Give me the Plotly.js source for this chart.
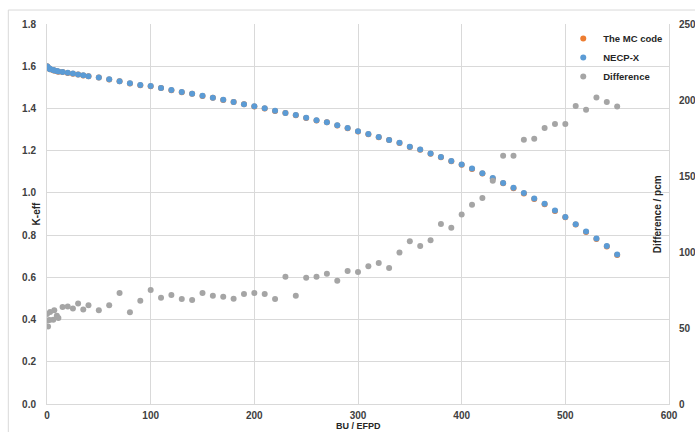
<!DOCTYPE html>
<html>
<head>
<meta charset="utf-8">
<script src="https://cdn.plot.ly/plotly-3.0.1.min.js"></script>
<style>html,body{margin:0;padding:0;background:#fff;}#chart{width:695px;height:432px;}</style>
</head>
<body>
<div id="chart"></div>
<script>
const burnup = [0,0.5,1,2.5,3,6,7,9.5,11,15,20,25,30,35,40,
  50,60,70,80,90,100,110,120,130,140,150,160,170,180,190,200,
  210,220,230,240,250,260,270,280,290,300,310,320,330,340,350,
  360,370,380,390,400,410,420,430,440,450,460,470,480,490,500,
  510,520,530,540,550];

const necpX = [1.600,1.596,1.593,1.589,1.586,1.582,1.580,1.577,1.575,1.573,1.569,1.565,1.561,1.557,1.553,
  1.547,1.538,1.529,1.519,1.511,1.506,1.497,1.487,1.478,1.470,1.460,1.451,1.441,1.431,1.420,1.410,
  1.401,1.389,1.379,1.369,1.356,1.344,1.335,1.320,1.307,1.292,1.279,1.265,1.251,1.237,1.219,
  1.205,1.186,1.170,1.151,1.134,1.115,1.093,1.070,1.047,1.024,0.999,0.973,0.948,0.916,0.886,
  0.852,0.817,0.784,0.748,0.708];

const mcCode = [1.5994,1.5955,1.5925,1.5884,1.5854,1.5814,1.5794,1.5764,1.5744,1.5724,1.5684,1.5644,1.5603,1.5564,1.5524,
  1.5464,1.5374,1.5283,1.5184,1.5103,1.5053,1.4963,1.4863,1.4773,1.4693,1.4593,1.4503,1.4403,1.4303,1.4193,1.4093,
  1.4003,1.3883,1.3782,1.3683,1.3552,1.3432,1.3341,1.3192,1.3061,1.2911,1.2781,1.2641,1.2501,1.2360,1.2179,
  1.2040,1.1849,1.1688,1.1498,1.1328,1.1137,1.0916,1.0685,1.0454,1.0224,0.9973,0.9713,0.9462,0.9142,0.8842,
  0.8500,0.8151,0.7820,0.7460,0.7060];

const differencePcm = [59.2,55.0,51.0,55.3,60.5,55.5,61.6,58.1,56.6,63.8,64.2,62.9,66.2,62.2,64.9,
  61.6,64.9,73.0,60.3,68.0,75.0,69.9,71.7,69.1,68.4,73.0,71.2,70.6,69.3,72.4,73.0,
  72.4,69.1,83.7,71.2,83.1,83.7,85.7,81.1,87.5,86.9,90.7,92.7,89.5,99.6,107.0,
  104.0,107.8,118.5,115.9,124.7,131.1,135.5,146.9,163.4,163.4,173.9,174.5,181.6,184.2,184.2,
  196.0,193.6,201.7,198.7,195.8];

const seriesNames = ['The MC code','NECP-X','Difference'];
const xTitle = 'BU / EFPD';
const yTitle = 'K-eff';
const y2Title = 'Difference / pcm';

const FONT = '"Liberation Sans", Arial, sans-serif';
const GRID = '#d9d9d9';
const tickFont = {family: FONT, size: 10, color: '#404040', weight: 'bold'};

const traces = [
  {x: burnup, y: mcCode, name: seriesNames[0], type: 'scatter', mode: 'markers',
   marker: {color: '#ED7D31', size: 6}},
  {x: burnup, y: necpX, name: seriesNames[1], type: 'scatter', mode: 'markers',
   marker: {color: '#5B9BD5', size: 6}},
  {x: burnup, y: differencePcm, name: seriesNames[2], type: 'scatter', mode: 'markers',
   yaxis: 'y2', marker: {color: '#A5A5A5', size: 6}}
];

const layout = {
  width: 695, height: 432,
  margin: {l: 47, r: 26, t: 24, b: 28, pad: 0},
  paper_bgcolor: '#ffffff', plot_bgcolor: '#ffffff',
  font: {family: FONT, color: '#404040'},
  showlegend: true,
  legend: {x: 0.83, y: 1.0, xanchor: 'left', yanchor: 'top',
    bgcolor: 'rgba(0,0,0,0)', font: {family: FONT, size: 9.5, color: '#262626', weight: 'bold'},
    itemwidth: 30, tracegroupgap: 0},
  xaxis: {range: [0, 600], dtick: 100, tick0: 0, showgrid: true, gridcolor: GRID, gridwidth: 1,
    zeroline: false, showline: true, linecolor: GRID, linewidth: 1, mirror: false,
    ticks: '', tickfont: tickFont, ticklabelstandoff: 2},
  yaxis: {range: [0, 1.8], dtick: 0.2, tick0: 0, tickformat: '.1f', showgrid: true, gridcolor: GRID,
    zeroline: false, showline: true, linecolor: GRID, linewidth: 1,
    ticks: '', tickfont: tickFont, ticklabelstandoff: 8},
  yaxis2: {range: [0, 250], dtick: 50, tick0: 0, overlaying: 'y', side: 'right', showgrid: false,
    zeroline: false, showline: true, linecolor: GRID, linewidth: 1,
    ticks: '', tickfont: tickFont, ticklabelstandoff: 7},
  annotations: [
    {text: yTitle, xref: 'paper', yref: 'paper', x: -0.017, y: 0.5, textangle: -90,
     showarrow: false, xanchor: 'center', yanchor: 'middle',
     font: {family: FONT, size: 10, color: '#262626', weight: 'bold'}},
    {text: y2Title, xref: 'paper', yref: 'paper', x: 0.981, y: 0.5, textangle: -90,
     showarrow: false, xanchor: 'center', yanchor: 'middle',
     font: {family: FONT, size: 10, color: '#262626', weight: 'bold'}},
    {text: xTitle, xref: 'paper', yref: 'paper', x: 0.5, y: -0.059, borderpad: 0,
     showarrow: false, xanchor: 'center', yanchor: 'middle',
     font: {family: FONT, size: 9, color: '#262626', weight: 'bold'}}
  ],
  shapes: [
    {type: 'rect', xref: 'paper', yref: 'paper', x0: -0.0622, x1: 1.05, y0: -0.094, y1: 1.0368,
     line: {color: GRID, width: 1}, fillcolor: 'rgba(0,0,0,0)', layer: 'below'}
  ]
};

Plotly.newPlot('chart', traces, layout, {displayModeBar: false, staticPlot: true});
</script>
</body>
</html>
